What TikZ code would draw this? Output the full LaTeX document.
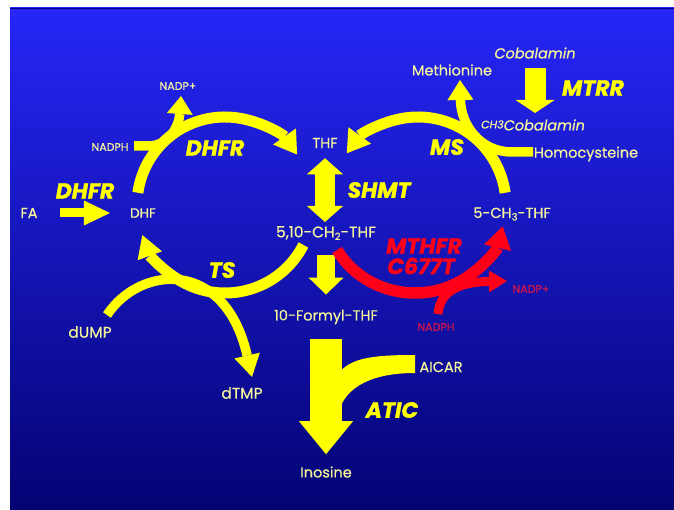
\documentclass[tikz,border=0pt]{standalone}
\usepackage{fontspec}
\setmainfont{Poppins}
\newfontfamily\labfont{Poppins}[FakeBold=0.5]
\newfontfamily\enzfont{Poppins}[FakeBold=1.2]
\usetikzlibrary{arrows.meta}
\definecolor{lbl}{RGB}{245,245,155}
\definecolor{yel}{RGB}{255,255,0}
\definecolor{redA}{RGB}{255,0,25}
\definecolor{redT}{RGB}{215,20,70}
\definecolor{bgtop}{RGB}{38,38,248}
\definecolor{bgmid}{RGB}{20,20,212}
\definecolor{bgbot}{RGB}{3,3,115}
\begin{document}
\begin{tikzpicture}[x=1pt,y=-1pt,
  lab/.style={text=lbl,font=\labfont\fontsize{14.5}{14.5}\selectfont,inner sep=0pt},
  small/.style={text=lbl,font=\labfont\fontsize{11}{11}\selectfont,inner sep=0pt},
  enz/.style={text=yel,font=\enzfont\fontsize{22}{22}\selectfont\bfseries\itshape,inner sep=0pt},
  band/.style={draw=yel,line width=11pt},
  thin band/.style={draw=yel,line width=9.5pt},
  redband/.style={draw=redA,line width=11.5pt}]
\useasboundingbox (0,0) rectangle (674,510);
\fill[white] (0,0) rectangle (674,510);
\shade[top color=bgtop, middle color=bgmid, bottom color=bgbot] (10,8) rectangle (674,510);
\draw[black!50!blue,line width=1.2pt] (10,8.6) -- (674,8.6);

% nodes
\node[lab] (FA) at (29,213) {FA};
\node[lab,font=\labfont\fontsize{13.5}{13.5}\selectfont] (DHF) at (143,213) {DHF};
\node[enz] (dhfrA) at (85,191) {DHFR};
\node[small] (nadphA) at (110,147) {NADPH};
\node[small] (nadpA) at (178,86) {NADP+};
\node[enz] (dhfrB) at (215,148) {DHFR};
\node[lab] (THF) at (325,143) {THF};
\node[enz] (shmt) at (379,190) {SHMT};
\node[lab,font=\labfont\fontsize{15.5}{15.5}\selectfont] (CH2) at (326,233) {5,10-CH\raisebox{-2.5pt}{\fontsize{10}{10}\selectfont 2}-THF};
\node[lab] (formyl) at (326,317) {10-Formyl-THF};
\node[lab] (AICAR) at (441,367) {AICAR};
\node[enz] (atic) at (392,410) {ATIC};
\node[lab] (ino) at (326,472) {Inosine};
\node[lab,font=\labfont\fontsize{15.5}{15.5}\selectfont] (dUMP) at (90,332) {dUMP};
\node[lab,font=\labfont\fontsize{15.5}{15.5}\selectfont] (dTMP) at (242,393) {dTMP};
\node[enz] (ts) at (222,270) {TS};
\node[lab] (meth) at (452,70) {Methionine};
\node[lab,font=\labfont\fontsize{14.5}{14.5}\selectfont\itshape] (cob) at (535,53) {Cobalamin};
\node[enz] (mtrr) at (593,88) {MTRR};
\node[lab,font=\labfont\fontsize{14.5}{14.5}\selectfont\itshape] (cobB) at (533,125) {\raisebox{2pt}{\fontsize{11}{11}\selectfont CH3}Cobalamin};
\node[lab] (hcy) at (586,154) {Homocysteine};
\node[enz] (ms) at (447,147) {MS};
\node[lab] (mthf) at (512,214) {5-CH\raisebox{-2.5pt}{\fontsize{10}{10}\selectfont 3}-THF};
\node[enz,text=redA] (mthfr) at (424,246) {MTHFR};
\node[enz,text=redA] (c677) at (421,266) {C677T};
\node[small,text=redT] (nadphB) at (436,327) {NADPH};
\node[small,text=redT] (nadpB) at (531,289) {NADP+};

% straight arrows
\draw[yel,line width=9pt,-{Triangle[width=25pt,length=26pt,line width=0pt]},shorten <=22pt,shorten >=20pt] (FA) -- (DHF);
\draw[yel,line width=20pt,{Triangle[width=36pt,length=16pt,line width=0pt]}-{Triangle[width=36pt,length=16pt,line width=0pt]},shorten <=10pt,shorten >=11pt] (THF) -- (THF |- CH2);
\draw[yel,line width=18pt,-{Triangle[width=35pt,length=17pt,line width=0pt]},shorten <=15pt,shorten >=15pt] (CH2) -- (formyl);
\draw[yel,line width=32pt,-{Triangle[width=54pt,length=33pt,line width=0pt]},shorten <=15pt,shorten >=12pt] (formyl) -- (ino);
\draw[yel,line width=21pt,-{Triangle[width=39pt,length=13pt,line width=0pt]},shorten <=9pt,shorten >=12pt] (cob) -- (cob |- cobB);
\fill[yel] (338,374) .. controls (350,358) and (372,355) .. (415,355) -- (415,373) .. controls (375,373) and (345,385) .. (338,414) -- cycle;

% left cycle
\draw[band,-{Triangle[width=28pt,length=22pt,line width=0pt]}] (225,205) ++(-172:88) arc[start angle=-172,end angle=-35,radius=88];
\draw[band,-{Triangle[width=26pt,length=22pt,line width=0pt]}] (225,205) ++(27:88) arc[start angle=27,end angle=160,radius=88];
\coordinate (bA) at (134,146);
\draw[thin band,-{Triangle[width=26pt,length=18pt,line width=0pt]}] (bA) -- (148,146) .. controls (170,146) and (179,125) .. (181,96);
\coordinate (bT) at (107,315);
\draw[thin band,-{Triangle[width=26pt,length=22pt,line width=0pt]}] (bT) .. controls (140,265) and (225,258) .. (252,377);

% right cycle
\draw[band,-{Triangle[width=28pt,length=22pt,line width=0pt]}] (418,205) ++(-8:88) arc[start angle=-8,end angle=-144,radius=88];
\coordinate (bM) at (533,152);
\draw[thin band,-{Triangle[width=26pt,length=20pt,line width=0pt]}] (bM) -- (512,152) .. controls (480,152) and (461,125) .. (460,80);
\draw[redband,-{Triangle[width=28pt,length=22pt,line width=0pt]}] (415,207) ++(150:{90 and 86}) arc[start angle=150,end angle=13,x radius=90,y radius=86];
\coordinate (bR) at (438,314);
\draw[draw=redA,line width=9pt,-{Triangle[width=22pt,length=18pt,line width=0pt]}] (bR) .. controls (440,288) and (465,282) .. (507,281);
\end{tikzpicture}
\end{document}
